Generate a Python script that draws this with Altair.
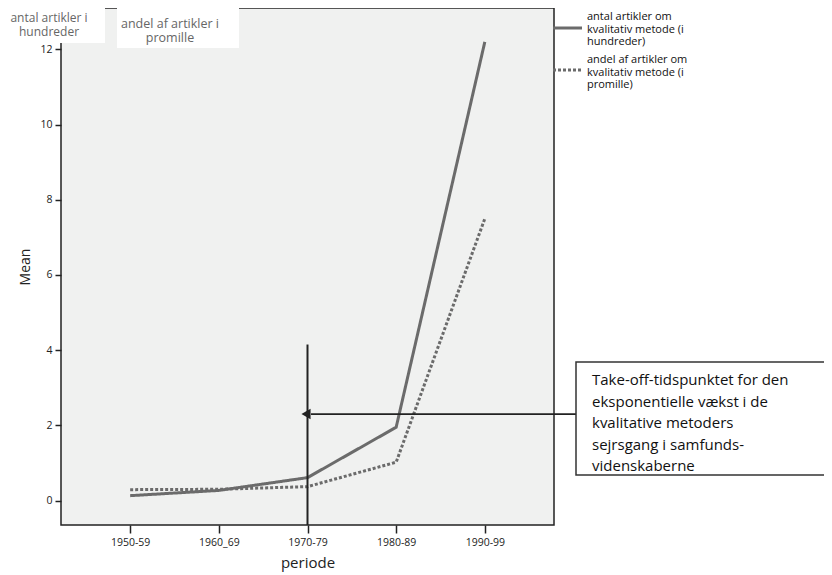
import altair as alt
import pandas as pd

# ---- data ----
periods = ["1950-59", "1960_69", "1970-79", "1980-89", "1990-99"]
antal = [0.13, 0.27, 0.61, 1.95, 12.2]      # antal artikler (i hundreder)
andel = [0.29, 0.30, 0.37, 1.02, 7.5]       # andel af artikler (i promille)
series = ["antal", "andel"]
y_ticks = [0, 2, 4, 6, 8, 10, 12]
takeoff_period = "1970-79"
takeoff_top = 4.15
arrow_level = 2.3

legend_antal = "antal artikler om\nkvalitativ metode (i\nhundreder)"
legend_andel = "andel af artikler om\nkvalitativ metode (i\npromille)"
label_left = "antal artikler i\nhundreder"
label_right = "andel af artikler i\npromille"
note_text = ("Take-off-tidspunktet for den\neksponentielle vækst i de\n"
             "kvalitative metoders\nsejrsgang i samfunds-\nvidenskaberne")

FONT = "Open Sans"
LINE = "#6b6b6b"
INK = "#222222"
Y_DOMAIN = [-0.65, 13.1]

df = pd.DataFrame({
    "periode": periods * 2,
    "serie": [series[0]] * len(periods) + [series[1]] * len(periods),
    "value": antal + andel,
})

x_enc = alt.X(
    "periode:O", sort=periods,
    scale=alt.Scale(type="point", padding=0.78),
    axis=alt.Axis(title="periode", labelAngle=0, tickSize=8, labelPadding=4,
                  titlePadding=8, titleFontSize=15),
)
y_enc = alt.Y(
    "value:Q",
    scale=alt.Scale(domain=Y_DOMAIN, nice=False, zero=False),
    axis=alt.Axis(title="Mean", values=y_ticks, grid=False, tickSize=6,
                  labelPadding=3, titlePadding=7, titleFontSize=14),
)

lines = alt.Chart(df).mark_line(strokeWidth=3, color=LINE).encode(
    x=x_enc, y=y_enc,
    strokeDash=alt.StrokeDash(
        "serie:N",
        scale=alt.Scale(domain=series, range=[[1, 0], [3, 2]]),
        legend=None,
    ),
)

vline_df = pd.DataFrame({"periode": [takeoff_period], "top": [takeoff_top], "bottom": [Y_DOMAIN[0]]})
vline = alt.Chart(vline_df).mark_rule(color=INK, strokeWidth=2, clip=False).encode(
    x=alt.X("periode:O", sort=periods),
    y=alt.Y("top:Q"),
    y2="bottom:Q",
)

arrow_df = pd.DataFrame({"level": [arrow_level]})
arrow_line = alt.Chart(arrow_df).mark_rule(color=INK, strokeWidth=1.8).encode(
    x=alt.value(250), x2=alt.value(515), y=alt.Y("level:Q"),
)
arrow_head = alt.Chart(arrow_df).mark_point(
    shape="triangle-left", filled=True, color=INK, opacity=1, size=110
).encode(x=alt.value(245), y=alt.Y("level:Q"))

one = pd.DataFrame({"k": [0]})

note_box = alt.Chart(one).mark_rect(
    fill="white", stroke="#333333", strokeWidth=1.5, clip=False
).encode(x=alt.value(515), x2=alt.value(768), y=alt.value(354), y2=alt.value(467))
note = alt.Chart(one).mark_text(
    text=note_text, lineBreak="\n", align="left", baseline="top",
    font=FONT, fontSize=15, lineHeight=21.5, color="#111111",
).encode(x=alt.value(531), y=alt.value(365))

# legend (drawn by hand)
leg_line_solid = alt.Chart(one).mark_rule(color=LINE, strokeWidth=3).encode(
    x=alt.value(492), x2=alt.value(521), y=alt.value(20))
leg_line_dot = alt.Chart(one).mark_rule(color=LINE, strokeWidth=3, strokeDash=[3, 2]).encode(
    x=alt.value(492), x2=alt.value(521), y=alt.value(62))
leg_txt1 = alt.Chart(one).mark_text(
    text=legend_antal, lineBreak="\n", align="left", baseline="top",
    font=FONT, fontSize=11, lineHeight=12.5, color="#111111",
).encode(x=alt.value(526), y=alt.value(3))
leg_txt2 = alt.Chart(one).mark_text(
    text=legend_andel, lineBreak="\n", align="left", baseline="top",
    font=FONT, fontSize=11, lineHeight=12.5, color="#111111",
).encode(x=alt.value(526), y=alt.value(46))

# white unit boxes at the top
box1 = alt.Chart(one).mark_rect(fill="white", clip=False).encode(
    x=alt.value(-61), x2=alt.value(44), y=alt.value(-8), y2=alt.value(35))
box2 = alt.Chart(one).mark_rect(fill="white", clip=False).encode(
    x=alt.value(56), x2=alt.value(178), y=alt.value(0), y2=alt.value(40))
lab1 = alt.Chart(one).mark_text(
    text=label_left, lineBreak="\n", align="center", baseline="top",
    font=FONT, fontSize=12, lineHeight=14, color="#666666",
).encode(x=alt.value(-12), y=alt.value(5))
lab2 = alt.Chart(one).mark_text(
    text=label_right, lineBreak="\n", align="center", baseline="top",
    font=FONT, fontSize=12.5, lineHeight=14, color="#666666",
).encode(x=alt.value(109), y=alt.value(10))

chart = alt.layer(
    lines, vline, arrow_line, arrow_head, note_box, note,
    leg_line_solid, leg_line_dot, leg_txt1, leg_txt2,
    box1, box2, lab1, lab2,
).properties(
    width=493, height=517,
    autosize=alt.AutoSizeParams(type="none"),
    padding={"left": 53, "top": 0, "right": 270, "bottom": 49},
).configure_view(
    fill="#f0f1f0", stroke=INK, strokeWidth=1.5,
).configure_axis(
    labelFont=FONT, titleFont=FONT, labelFontSize=10.5, labelColor=INK,
    titleColor=INK, titleFontWeight="normal", tickColor=INK, tickWidth=1.5,
    domain=False,
)

chart.save("out.html", embed_options={"renderer": "svg", "actions": False})
